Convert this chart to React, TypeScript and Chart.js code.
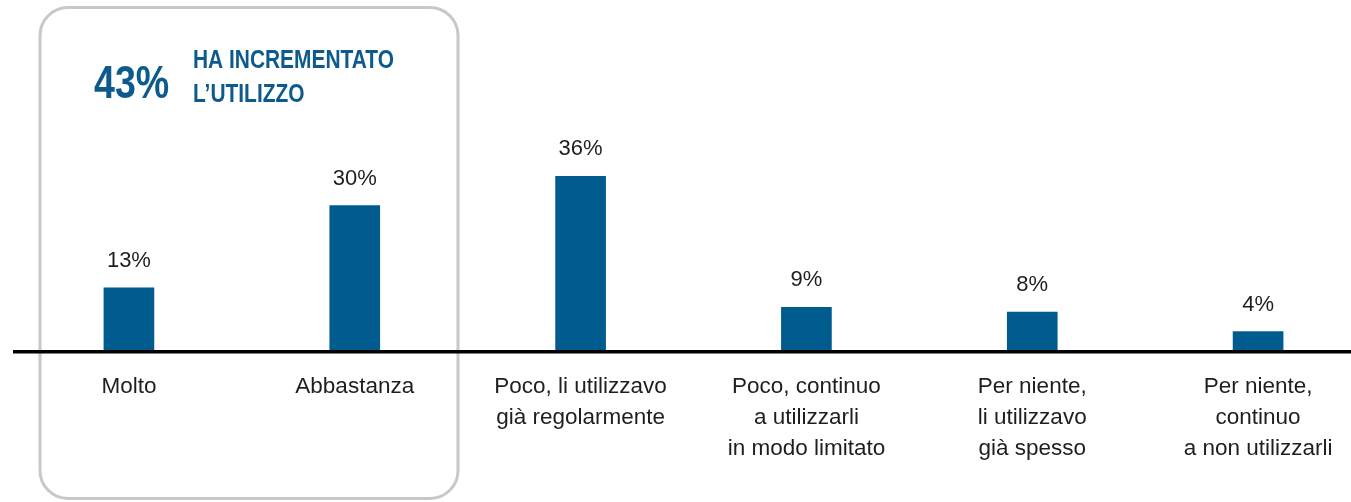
import React, { useEffect, useRef } from "react";
import { Chart, registerables } from "chart.js";

Chart.register(...registerables);

const categories: string[][] = [
  ["Molto"],
  ["Abbastanza"],
  ["Poco, li utilizzavo", "già regolarmente"],
  ["Poco, continuo", "a utilizzarli", "in modo limitato"],
  ["Per niente,", "li utilizzavo", "già spesso"],
  ["Per niente,", "continuo", "a non utilizzarli"],
];
const values: number[] = [13, 30, 36, 9, 8, 4];
const valueLabels: string[] = ["13%", "30%", "36%", "9%", "8%", "4%"];
const highlightValue = "43%";
const highlightLines: string[] = ["HA INCREMENTATO", "L\u2019UTILIZZO"];

const BLUE = "#005c8f";
const TEXT_BLUE = "#0d5b8d";
const BODY_FONT = "'Liberation Sans', Arial, sans-serif";

// draw text horizontally condensed (like a narrow typeface)
function narrowText(ctx: CanvasRenderingContext2D, text: string, x: number, y: number, sx: number) {
  ctx.save();
  ctx.translate(x, y);
  ctx.scale(sx, 1);
  ctx.fillText(text, 0, 0);
  ctx.restore();
}

const decorPlugin = {
  id: "decor",
  beforeDraw(chart: any) {
    const ctx = chart.ctx as CanvasRenderingContext2D;
    ctx.save();
    ctx.fillStyle = "#ffffff";
    ctx.fillRect(0, 0, chart.width, chart.height);
    // rounded highlight box
    const x = 40, y = 7.5, w = 418, h = 491, r = 28;
    ctx.beginPath();
    ctx.moveTo(x + r, y);
    ctx.lineTo(x + w - r, y);
    ctx.arcTo(x + w, y, x + w, y + r, r);
    ctx.lineTo(x + w, y + h - r);
    ctx.arcTo(x + w, y + h, x + w - r, y + h, r);
    ctx.lineTo(x + r, y + h);
    ctx.arcTo(x, y + h, x, y + h - r, r);
    ctx.lineTo(x, y + r);
    ctx.arcTo(x, y, x + r, y, r);
    ctx.closePath();
    ctx.strokeStyle = "#c8c8c8";
    ctx.lineWidth = 3;
    ctx.stroke();
    // title
    ctx.fillStyle = TEXT_BLUE;
    ctx.textBaseline = "alphabetic";
    ctx.textAlign = "left";
    ctx.font = `bold 47px ${BODY_FONT}`;
    narrowText(ctx, highlightValue, 94, 98, 0.8);
    ctx.font = `bold 25.5px ${BODY_FONT}`;
    narrowText(ctx, highlightLines[0], 193, 68, 0.82);
    narrowText(ctx, highlightLines[1], 193, 102, 0.82);
    ctx.restore();
  },
  afterDatasetsDraw(chart: any) {
    const ctx = chart.ctx as CanvasRenderingContext2D;
    const meta = chart.getDatasetMeta(0);
    const zeroY = chart.scales.y.getPixelForValue(0);
    ctx.save();
    // baseline
    ctx.fillStyle = "#000000";
    ctx.fillRect(13, zeroY - 1, chart.width - 13, 3.5);
    // value labels
    ctx.fillStyle = "#1e1e1e";
    ctx.font = `22px ${BODY_FONT}`;
    ctx.textAlign = "center";
    ctx.textBaseline = "alphabetic";
    meta.data.forEach((bar: any, i: number) => {
      ctx.fillText(valueLabels[i], bar.x, bar.y - 21);
    });
    ctx.restore();
  },
};

export default function App() {
  const canvasRef = useRef<HTMLCanvasElement | null>(null);

  useEffect(() => {
    const canvas = canvasRef.current;
    if (!canvas) return;
    const chart = new Chart(canvas, {
      type: "bar",
      data: {
        labels: categories,
        datasets: [
          {
            data: values,
            backgroundColor: BLUE,
            borderWidth: 0,
            barThickness: 50,
          },
        ],
      },
      options: {
        responsive: false,
        animation: false,
        devicePixelRatio: 1,
        layout: { padding: { top: 11.5, left: 16, right: 0, bottom: 0 } },
        plugins: {
          legend: { display: false },
          tooltip: { enabled: false },
          title: { display: false },
        },
        scales: {
          x: {
            offset: true,
            grid: { display: false, drawTicks: false },
            border: { display: false },
            ticks: {
              padding: 20.5,
              color: "#1e1e1e",
              maxRotation: 0,
              autoSkip: false,
              font: { family: BODY_FONT, size: 22.5, lineHeight: "31px" },
            },
            afterFit(scale: any) {
              scale.height = 151;
            },
          },
          y: {
            display: false,
            min: 0,
            max: 70,
          },
        },
      },
      plugins: [decorPlugin],
    });
    return () => chart.destroy();
  }, []);

  return (
    <div
      style={{
        position: "absolute",
        left: 0,
        top: 0,
        width: 1351,
        height: 502,
        overflow: "hidden",
        background: "#ffffff",
      }}
    >
      <canvas
        ref={canvasRef}
        width={1371}
        height={502}
        style={{ width: 1371, height: 502, display: "block" }}
      />
    </div>
  );
}
